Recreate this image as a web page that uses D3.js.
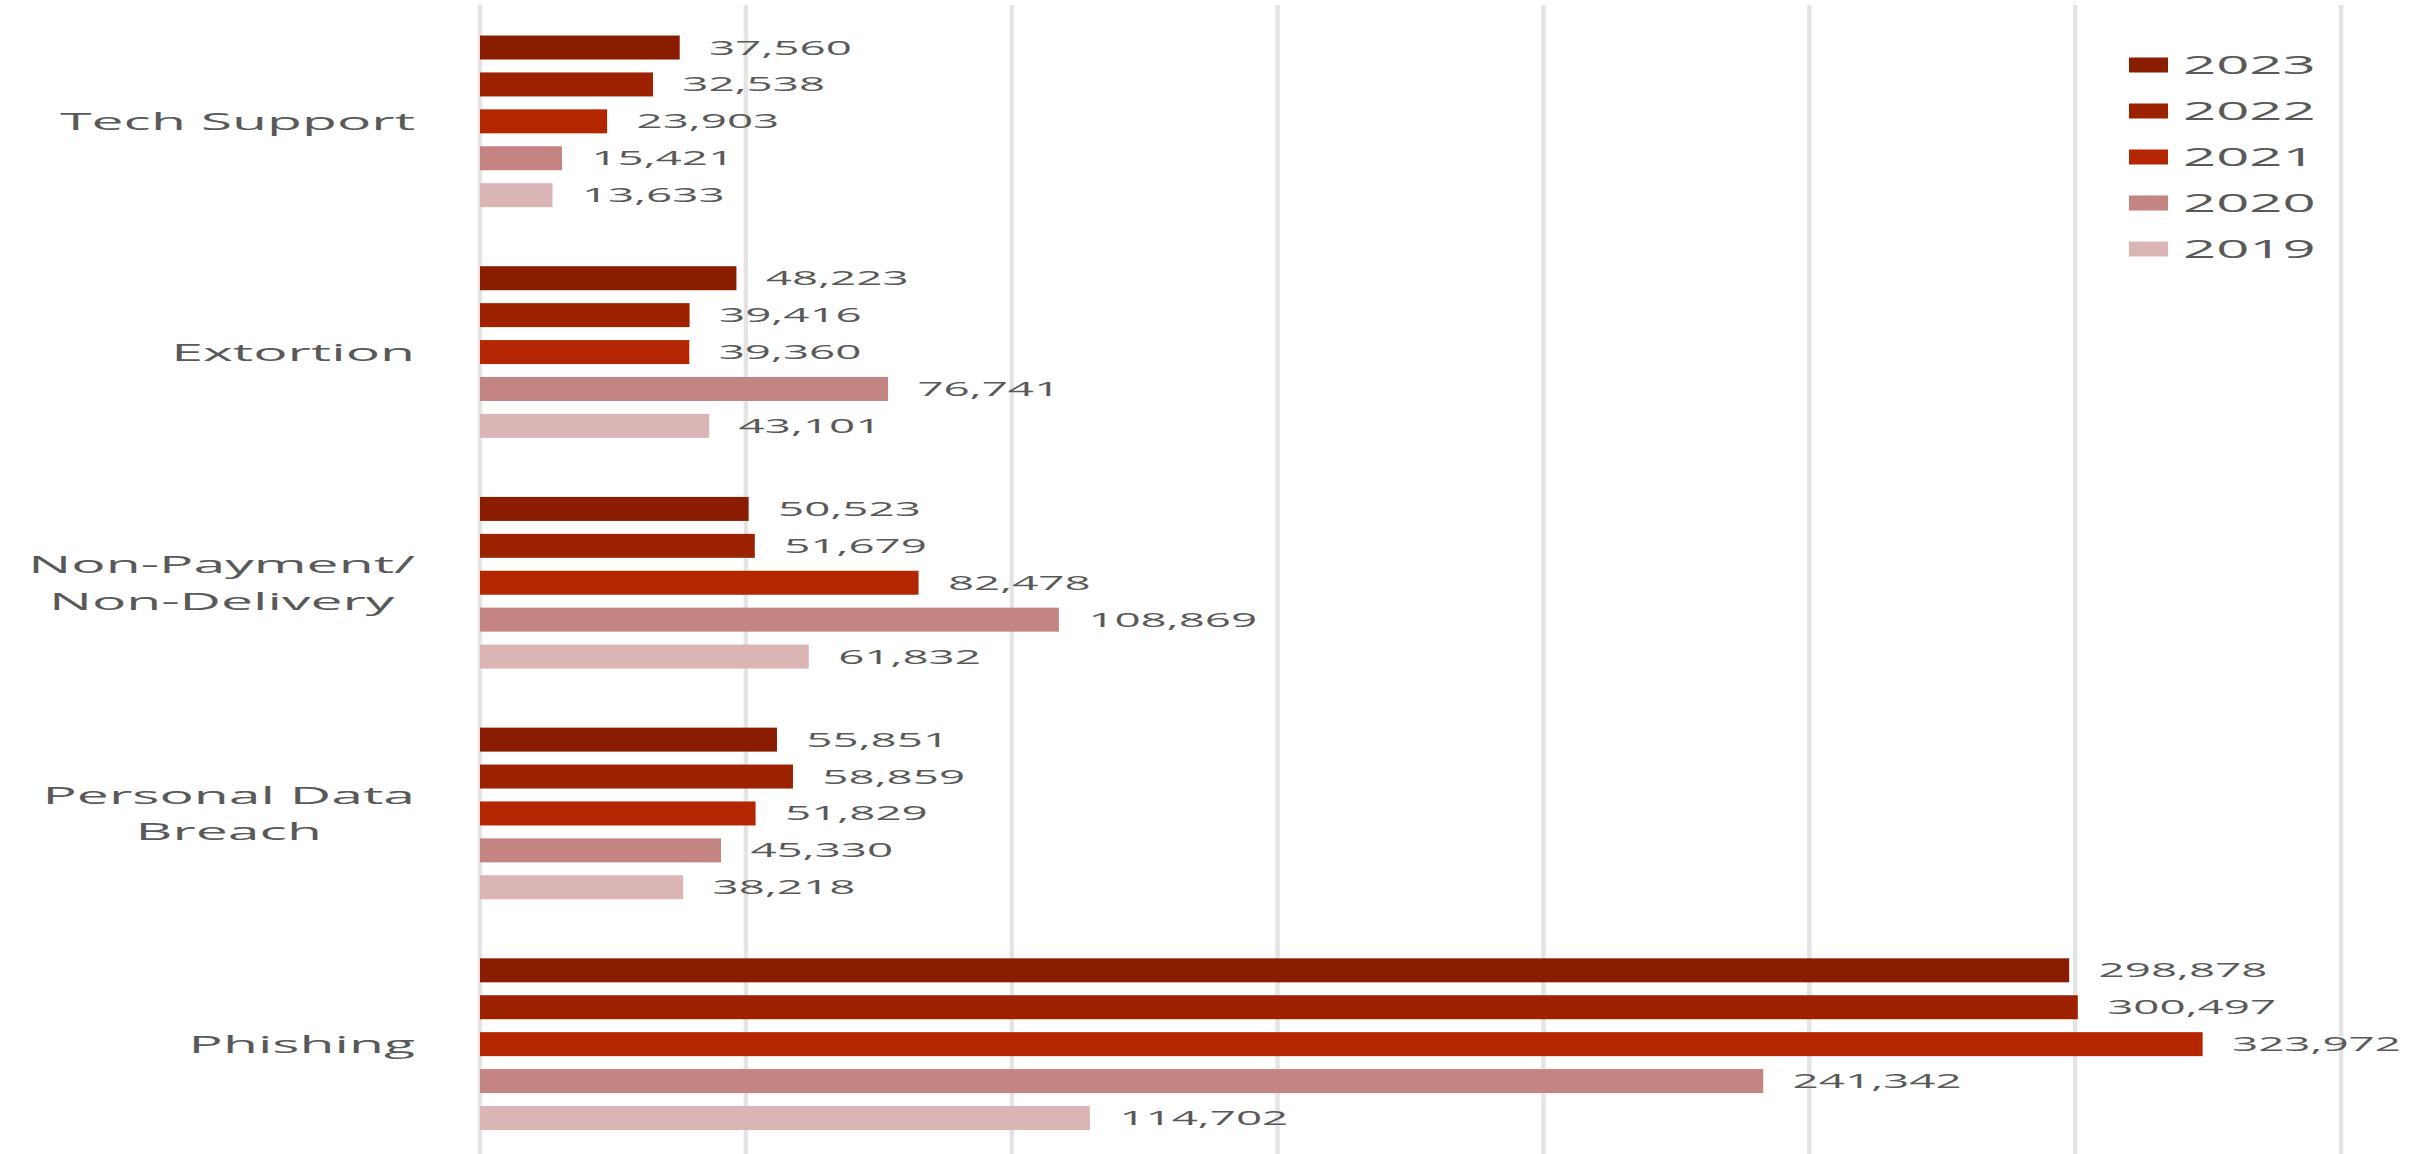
<!DOCTYPE html>
<html>
<head>
<meta charset="utf-8">
<script src="https://cdn.jsdelivr.net/npm/d3@7"></script>
<style>
  html, body { margin: 0; padding: 0; background: #fff; }
  svg { display: block; }
  text { font-family: "Open Sans", sans-serif; fill: #595959; }
</style>
</head>
<body>
<div id="chart"></div>
<script>
// data
const categories = ["Tech Support", "Extortion", "Non-Payment/\nNon-Delivery", "Personal Data\nBreach", "Phishing"];
const years = ["2023", "2022", "2021", "2020", "2019"];
const values2023 = [37560, 48223, 50523, 55851, 298878];
const values2022 = [32538, 39416, 51679, 58859, 300497];
const values2021 = [23903, 39360, 82478, 51829, 323972];
const values2020 = [15421, 76741, 108869, 45330, 241342];
const values2019 = [13633, 43101, 61832, 38218, 114702];
const xTicks = [0, 50000, 100000, 150000, 200000, 250000, 300000, 350000];

const seriesValues = { "2023": values2023, "2022": values2022, "2021": values2021, "2020": values2020, "2019": values2019 };
const colors = { "2023": "#8A1C00", "2022": "#9C2200", "2021": "#B32600", "2020": "#C48482", "2019": "#DBB5B5" };

// the original picture is stretched sideways, so draw in narrower units
// and let the viewBox stretch everything (text included)
const outW = 2412, outH = 1154;
const sx = 2.35;
const W = outW / sx, H = outH;

const svg = d3.select("#chart")
    .append("svg")
    .attr("width", outW)
    .attr("height", outH)
    .attr("viewBox", "0 0 " + W + " " + H)
    .attr("preserveAspectRatio", "none");

let x = d3.scaleLinear()
    .domain([0, 350000])
    .range([480 / sx, 2341 / sx]);

let y0 = d3.scaleBand()
    .domain(categories)
    .range([6, 1159.5])
    .paddingInner(0.2)
    .paddingOuter(0.1);

let y1 = d3.scaleBand()
    .domain(years)
    .range([0, y0.bandwidth()])
    .paddingInner(0.35)
    .paddingOuter(0.175);

// gridlines
svg.append("g")
    .selectAll("line")
    .data(xTicks)
    .join("line")
    .attr("x1", d => x(d))
    .attr("x2", d => x(d))
    .attr("y1", 5)
    .attr("y2", H)
    .attr("stroke", "#e4e4e4")
    .attr("stroke-width", 1.9);

// bars
let rows = [];
categories.forEach((c, i) => {
    years.forEach(yr => rows.push({ cat: c, year: yr, value: seriesValues[yr][i] }));
});

let groups = svg.append("g");

groups.selectAll("rect")
    .data(rows)
    .join("rect")
    .attr("x", x(0))
    .attr("y", d => y0(d.cat) + y1(d.year))
    .attr("width", d => x(d.value) - x(0))
    .attr("height", y1.bandwidth())
    .attr("fill", d => colors[d.year]);

// value labels
groups.selectAll("text")
    .data(rows)
    .join("text")
    .attr("x", d => x(d.value) + 12.5)
    .attr("y", d => y0(d.cat) + y1(d.year) + y1.bandwidth() / 2)
    .attr("dy", "0.36em")
    .style("font-size", "19.5px")
    .text(d => d3.format(",")(d.value));

// category labels, right-aligned block, lines centred on each other
let labelRight = 415 / sx;
let lineGap = 36.5;
categories.forEach(c => {
    let lines = c.split("\n");
    let cy = y0(c) + y0.bandwidth() / 2;
    let t = svg.append("text")
        .style("font-size", "24.3px")
        .attr("text-anchor", "end");
    lines.forEach((ln, i) => {
        t.append("tspan")
            .attr("x", labelRight)
            .attr("y", cy + (i - (lines.length - 1) / 2) * lineGap)
            .attr("dy", "0.36em")
            .text(ln);
    });
    let widths = [];
    t.selectAll("tspan").each(function() { widths.push(this.getComputedTextLength()); });
    let maxW = d3.max(widths);
    t.attr("text-anchor", "middle");
    t.selectAll("tspan").attr("x", labelRight - maxW / 2);
});

// legend
let legend = svg.append("g")
    .attr("transform", "translate(" + (2129 / sx) + ",65)");

legend.selectAll("rect")
    .data(years)
    .join("rect")
    .attr("x", 0)
    .attr("y", (d, i) => i * 46 - 7.5)
    .attr("width", 39 / sx)
    .attr("height", 15)
    .attr("fill", d => colors[d]);

legend.selectAll("text")
    .data(years)
    .join("text")
    .attr("x", 54 / sx)
    .attr("y", (d, i) => i * 46)
    .attr("dy", "0.36em")
    .style("font-size", "24.7px")
    .text(d => d);
</script>
</body>
</html>
